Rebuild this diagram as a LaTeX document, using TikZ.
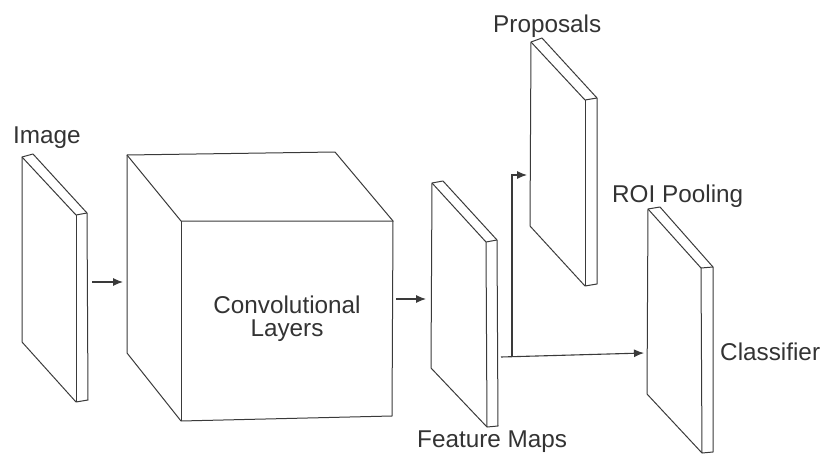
\documentclass[tikz,border=0pt]{standalone}
\usepackage{fontspec}
\setmainfont{Liberation Sans}
\usetikzlibrary{arrows.meta}
\definecolor{ink}{HTML}{3A3A3A}
\definecolor{txt}{HTML}{333333}
\begin{document}
\begin{tikzpicture}[x=1pt,y=-1pt,
  edge/.style={draw=ink,line width=1pt,line join=round},
  conn/.style={draw=ink,line width=1.1pt,-{Latex[length=10pt,width=8pt]}},
  lbl/.style={text=txt,font=\fontsize{24.3}{23}\selectfont,inner sep=0pt},
  ]
\useasboundingbox (0,0) rectangle (823,455);
% plate: A B C D E F G
\newcommand\myplate[7]{%
  \draw[edge] #1 -- #2 -- #3 -- #4 -- #5 -- #6 -- cycle;
  \draw[edge] #1 -- #7 -- #3;
  \draw[edge] #7 -- #5;
}
\myplate{(22,157)}{(33,154)}{(87,213)}{(88,400)}{(76,402)}{(22,342)}{(76,215)}
\myplate{(432,183)}{(443,181)}{(497,240)}{(498,426)}{(487,427)}{(431,368)}{(486,242)}
\myplate{(531,42)}{(542,38)}{(597,98)}{(597,284)}{(585,286)}{(530,226)}{(585,100)}
\myplate{(648,209)}{(660,207)}{(713,267)}{(713,452)}{(702,453)}{(647,394)}{(701,268)}
% cube
\draw[edge] (127,155) -- (335,152) -- (393,221) -- (392,416) -- (181,421) -- (127,353) -- cycle;
\draw[edge] (127,155) -- (181,221) -- (393,221);
\draw[edge] (181,221) -- (181,421);
% labels
\node[lbl,anchor=base west] (limg) at (13,143) {Image};
\node[lbl,anchor=base west] (lprop) at (493,32) {Proposals};
\node[lbl,anchor=base west] (lroi) at (612,202) {ROI Pooling};
\node[lbl,anchor=base west] (lcls) at (720,360) {Classifier};
\node[lbl,anchor=base west] (lfm) at (417,447) {Feature Maps};
\node[lbl,align=center] (lconv) at (287,319) {Convolutional\\Layers};
% connector coordinates
\coordinate (imgout) at (92,282);
\coordinate (cubein) at (123,282);
\coordinate (cubeout) at (396,299);
\coordinate (fmin) at (426,299);
\coordinate (fmout) at (501,357);
\coordinate (split) at (512,356.7);
\coordinate (propin) at (527,175);
\coordinate (roiin) at (644,353);
\draw[conn] (imgout) -- (cubein);
\draw[conn] (cubeout) -- (fmin);
\draw[conn] (fmout) -- (roiin);
\draw[conn] (split) |- (propin);
\end{tikzpicture}
\end{document}
